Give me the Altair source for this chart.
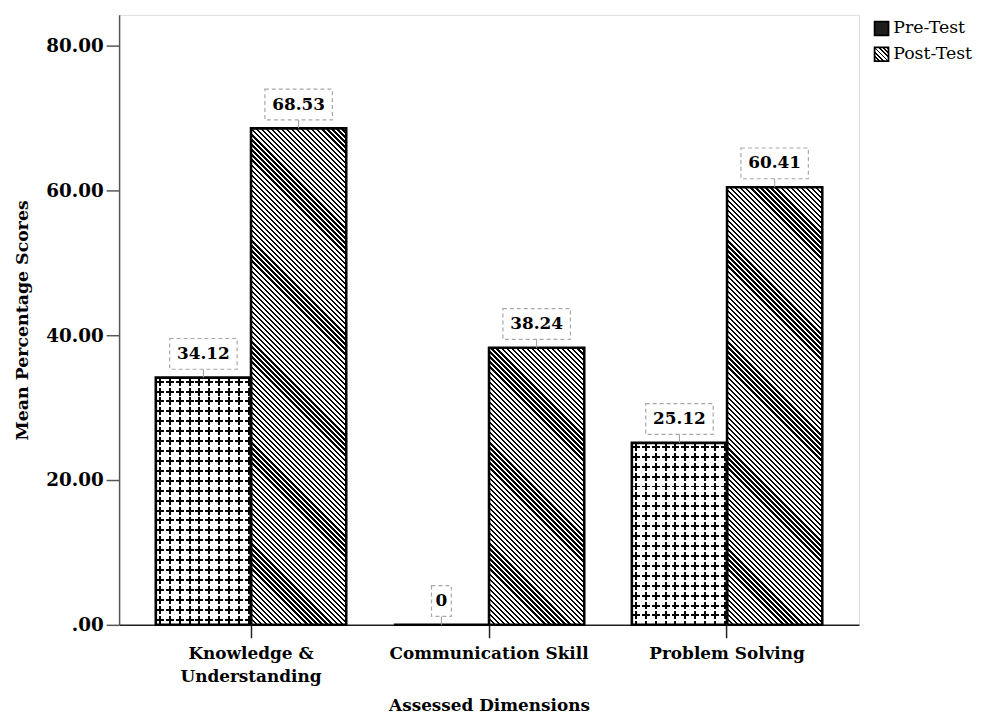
import math
import altair as alt
import pandas as pd

dimensions = ["Knowledge & Understanding", "Communication Skill", "Problem Solving"]
tests = ["Pre-Test", "Post-Test"]
pre_scores = [34.12, 0, 25.12]
post_scores = [68.53, 38.24, 60.41]
y_ticks = [0, 20, 40, 60, 80]

rows = []
for d, a, b in zip(dimensions, pre_scores, post_scores):
    rows.append({"Dimension": d, "Test": "Pre-Test", "Score": a})
    rows.append({"Dimension": d, "Test": "Post-Test", "Score": b})
df = pd.DataFrame(rows)

W, H = 746, 615
YMAX = 84.2
PPU = H / YMAX
P_IN, P_OUT = 0.2, 0.1543
STEP = W / (len(dimensions) - P_IN + 2 * P_OUT)
BAR_W = STEP * (1 - P_IN) / 2

FONT = "DejaVu Serif"
DARK = "#000000"
WHITE = "#ffffff"
CLEAR = "rgba(0,0,0,0)"
CROSS = 10.0  # cross pattern period (px)


def stripe_stops(n, a, b, on, off):
    """n periods over [0,1]; colour `on` between fractions a..b of each period."""
    stops = []
    i = 0
    while i < n:
        p0 = i / n
        s = min((i + a) / n, 1.0)
        e = min((i + b) / n, 1.0)
        p1 = min((i + 1) / n, 1.0)
        stops += [
            {"offset": p0, "color": off},
            {"offset": s, "color": off},
            {"offset": s, "color": on},
            {"offset": e, "color": on},
            {"offset": e, "color": off},
            {"offset": p1, "color": off},
        ]
        i += 1
    return stops


def hatch_gradient(h, w=BAR_W, period=3.6):
    k = (w + h) / (w * w + h * h)
    n = (w + h) / math.sqrt(2) / period
    return {
        "gradient": "linear",
        "x1": 0, "y1": 1, "x2": k * w, "y2": 1 - k * h,
        "stops": stripe_stops(n, 0.0, 0.45, DARK, WHITE),
    }


def h_grad(h, a, b, on, off):
    return {"gradient": "linear", "x1": 0, "y1": 0, "x2": 0, "y2": 1,
            "stops": stripe_stops(h / CROSS, a, b, on, off)}


def v_grad(a, b, on, off):
    return {"gradient": "linear", "x1": 0, "y1": 0, "x2": 1, "y2": 0,
            "stops": stripe_stops(BAR_W / CROSS, a, b, on, off)}


def cross_layers(h):
    # horizontal arms, cut into dashes, vertical arms, cut into dashes -> "+" grid
    return [
        h_grad(h, 0.3, 0.5, DARK, WHITE),
        v_grad(0.8, 1.0, WHITE, CLEAR),
        v_grad(0.3, 0.5, DARK, CLEAR),
        h_grad(h, 0.8, 1.0, WHITE, CLEAR),
    ]


def grad_expr(g):
    stops = ",".join("{offset:%.5f,color:'%s'}" % (s["offset"], s["color"]) for s in g["stops"])
    return "{gradient:'linear',x1:%g,y1:%g,x2:%g,y2:%g,stops:[%s]}" % (
        g["x1"], g["y1"], g["x2"], g["y2"], stops)


legend_post = grad_expr(hatch_gradient(14, w=14, period=3.0))

x_enc = alt.X(
    "Dimension:N",
    sort=dimensions,
    scale=alt.Scale(paddingInner=P_IN, paddingOuter=P_OUT),
    axis=alt.Axis(
        title="Assessed Dimensions",
        labelAngle=0, labelLimit=400,
        labelExpr="datum.label == 'Knowledge & Understanding' ? ['Knowledge &', 'Understanding'] : datum.label",
        labelFont=FONT, labelFontWeight="bold", labelFontSize=17, labelColor="black",
        labelPadding=8, labelLineHeight=23,
        titleFont=FONT, titleFontWeight="bold", titleFontSize=17, titleColor="black",
        titlePadding=13,
        tickSize=13, tickColor="#222", tickWidth=1.5,
        domainColor="#222", domainWidth=1.5,
    ),
)
xo_enc = alt.XOffset("Test:N", sort=tests, scale=alt.Scale(paddingInner=0, paddingOuter=0))
y_enc = alt.Y(
    "Score:Q",
    scale=alt.Scale(domain=[0, YMAX], nice=False),
    axis=alt.Axis(
        title="Mean Percentage Scores",
        values=y_ticks,
        labelExpr="datum.value == 0 ? '.00' : format(datum.value, '.2f')",
        labelFont=FONT, labelFontWeight="bold", labelFontSize=18.5, labelColor="black",
        labelPadding=3,
        titleFont=FONT, titleFontWeight="bold", titleFontSize=17.5, titleColor="black",
        titlePadding=14,
        tickSize=13, tickColor="#555", tickWidth=1.5,
        domainColor="#555", domainWidth=1.5,
        grid=False,
    ),
)

base = alt.Chart(df)

legend_layer = base.mark_bar(strokeWidth=0).encode(
    x=x_enc, xOffset=xo_enc, y=y_enc,
    fill=alt.Fill(
        "Test:N", sort=tests,
        scale=alt.Scale(domain=tests, range=["#1e1e1e", alt.ExprRef(expr=legend_post)]),
        legend=alt.Legend(
            title=None, orient="none", legendX=W + 14, legendY=5,
            symbolType="square", symbolSize=196, symbolStrokeColor="black",
            symbolStrokeWidth=1.8, rowPadding=4, labelOffset=3,
            labelFont=FONT, labelFontSize=17.5, labelColor="black",
        ),
    ),
)

layers = [legend_layer]

for d, a, b in zip(dimensions, pre_scores, post_scores):
    if b > 0:
        layers.append(
            base.transform_filter((alt.datum.Dimension == d) & (alt.datum.Test == "Post-Test"))
            .mark_bar(fill=hatch_gradient(b * PPU), strokeWidth=0)
            .encode(x=x_enc, xOffset=xo_enc, y=y_enc)
        )
    if a > 0:
        for g in cross_layers(a * PPU):
            layers.append(
                base.transform_filter((alt.datum.Dimension == d) & (alt.datum.Test == "Pre-Test"))
                .mark_bar(fill=g, strokeWidth=0)
                .encode(x=x_enc, xOffset=xo_enc, y=y_enc)
            )

outline = base.mark_bar(fillOpacity=0, stroke="black", strokeWidth=2.6).encode(
    x=x_enc, xOffset=xo_enc, y=y_enc
)
layers.append(outline)

labelled = base.transform_calculate(
    label="datum.Score == 0 ? '0' : format(datum.Score, '.2f')"
).transform_calculate(
    hw="length(datum.label) * 6.0 + 4"
).transform_calculate(
    shape="'M-' + datum.hw + ',-15.5H' + datum.hw + 'V15.5H-' + datum.hw + 'Z'"
)

leader = labelled.mark_rule(color="#9a9a9a", strokeWidth=1, yOffset=-8.5).encode(
    x=x_enc, xOffset=xo_enc, y=y_enc, y2=alt.Y2("Score:Q")
)
boxes = labelled.mark_point(
    filled=False, size=4, stroke="#a8a8a8", strokeWidth=1.2, strokeDash=[4, 3],
    opacity=1, yOffset=-24,
).encode(x=x_enc, xOffset=xo_enc, y=y_enc, shape=alt.Shape("shape:N", scale=None))
texts = labelled.mark_text(
    font=FONT, fontWeight="bold", fontSize=17, color="black", dy=-24, baseline="middle"
).encode(x=x_enc, xOffset=xo_enc, y=y_enc, text="label:N")

layers += [leader, boxes, texts]

chart = alt.layer(*layers).properties(
    width=W, height=H,
    autosize=alt.AutoSizeParams(type="none"),
    padding={"left": 112, "top": 4, "right": 121, "bottom": 89},
).configure_view(stroke="#7a7a7a", strokeWidth=1.5).configure(background="white")

chart.save("out.html", embed_options={"renderer": "svg", "actions": False})
